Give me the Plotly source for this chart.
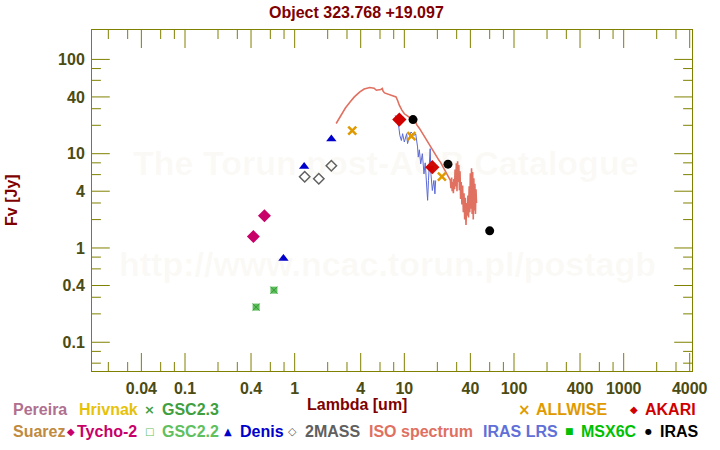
import math
import plotly.graph_objects as go

# ---------------- data ----------------
tycho_lam = [0.42, 0.53]
tycho_flux = [1.32, 2.19]

denis_lam = [0.79, 1.22, 2.16]
denis_flux = [0.775, 7.3, 14.3]

mass2_lam = [1.235, 1.66, 2.16]
mass2_flux = [5.7, 5.42, 7.45]

gsc22_lam = [0.445, 0.647]
gsc22_flux = [0.236, 0.357]
gsc23_lam = [0.445, 0.647]
gsc23_flux = [0.236, 0.357]

allwise_lam = [3.35, 11.6, 22.0]
allwise_flux = [17.6, 15.4, 5.7]

akari_lam = [9.0, 18.0]
akari_flux = [23.0, 7.2]

iras_lam = [12.0, 25.0, 60.0]
iras_flux = [23.0, 7.75, 1.52]

iso_lam = [2.39, 2.5, 2.69, 2.9, 3.2, 3.5, 3.93, 4.3, 4.84, 5.3, 5.56, 5.9, 6.1, 6.3, 6.4,
           6.6, 7.0, 7.6, 8.1, 8.4, 8.7, 9.0, 9.5, 10.0, 10.5, 11.1, 11.5, 11.9, 12.3, 12.7,
           13.0, 13.4, 13.7, 14.1, 14.4, 14.8, 15.2, 15.6, 16.0, 16.4, 16.8, 17.3, 17.8, 18.3,
           18.8, 19.3, 20.0, 20.7, 21.4, 22.2, 22.8, 23.4, 24.0, 24.6, 25.4, 26.3,
           26.6, 27.0, 27.3, 27.6, 28.0, 28.3, 28.7, 29.0, 29.4, 29.8, 30.2, 30.6, 31.0, 31.4,
           31.8, 32.2, 32.6, 33.0, 33.5, 34.0, 34.5, 35.0, 35.5, 36.0, 36.5, 37.0, 37.5, 38.0,
           38.5, 39.0, 39.5, 40.0, 40.5, 41.0, 41.5, 42.0, 42.5, 43.0, 43.5, 44.0, 44.5, 45.0, 45.5]
iso_flux = [20.9, 23.0, 26.7, 30.5, 35.4, 40.0, 45.2, 48.5, 50.4, 49.5, 47.1, 47.5, 48.0, 49.1, 46.0,
            44.1, 43.0, 41.7, 40.5, 40.0, 36.5, 32.7, 29.0, 26.5, 25.5, 24.5, 23.4, 23.0, 21.6, 21.6,
            20.2, 19.5, 18.6, 17.7, 17.0, 16.0, 15.4, 14.4, 13.9, 13.0, 12.6, 11.7, 11.2, 10.6,
            10.0, 9.6, 9.0, 8.5, 8.1, 7.5, 7.2, 6.8, 6.5, 6.1, 5.6, 5.2,
            4.3, 5.6, 4.0, 5.0, 3.8, 5.4, 4.2, 6.8, 4.5, 7.9, 4.0, 8.3, 5.0, 7.6,
            4.1, 6.5, 3.3, 5.0, 2.9, 4.6, 2.4, 3.8, 2.0, 3.4, 1.75, 3.0, 2.2, 3.6,
            2.1, 4.5, 2.4, 6.2, 2.6, 7.0, 2.3, 6.4, 2.0, 5.5, 2.5, 4.8, 2.3, 4.2, 3.0]

lrs_lam = [8.25, 8.5, 8.9, 9.1, 9.4, 9.65, 10.0, 10.5, 10.7, 11.0, 11.5, 12.3, 12.7, 13.2, 13.4,
           13.7, 14.1, 14.6, 15.1, 15.5, 16.3, 16.6, 17.2, 17.5, 18.0, 18.6, 19.0, 19.3]
lrs_flux = [25.5, 23.6, 19.2, 15.6, 13.8, 16.3, 13.3, 16.3, 12.8, 14.5, 17.0, 15.6, 16.2, 11.8, 9.2,
            11.0, 7.8, 10.0, 6.1, 8.0, 3.2, 5.2, 11.3, 6.0, 4.07, 5.2, 3.75, 5.2]

x_major = [0.04, 0.1, 0.4, 1, 4, 10, 40, 100, 400, 1000, 4000]
x_major_text = ["0.04", "0.1", "0.4", "1", "4", "10", "40", "100", "400", "1000", "4000"]
x_minor = [0.02, 0.03, 0.06, 0.08, 0.2, 0.3, 0.6, 0.8, 2, 3, 6, 8, 20, 30, 60, 80,
           200, 300, 600, 800, 2000, 3000]
y_major = [0.1, 0.4, 1, 4, 10, 40, 100]
y_major_text = ["0.1", "0.4", "1", "4", "10", "40", "100"]
y_minor = [0.06, 0.08, 0.2, 0.3, 0.6, 0.8, 2, 3, 6, 8, 20, 30, 60, 80]

# ---------------- styling ----------------
W, H = 720, 450
ML, MR, MT, MB = 92, 21, 30, 79
PW, PH = W - ML - MR, H - MT - MB
XR = [-1.848, 3.623]
YR = [-1.305, 2.312]
FONT = "Liberation Sans, Arial, sans-serif"
AXC = "#808000"
TICKC = "#4b4b12"
DARKRED = "#800000"
MAJ, MIN = 18, 9


def px(x):
    return (x - ML) / PW


def py(y):
    return (H - MB - y) / PH


fig = go.Figure()

# inside tick marks on all four sides, derived from the tick values and axis range
tx, ty = [], []
xlo, xhi = 10 ** XR[0], 10 ** XR[1]
ylo, yhi = 10 ** YR[0], 10 ** YR[1]
for vals, ln in ((x_major, MAJ), (x_minor, MIN)):
    d = ln / PH * (YR[1] - YR[0])
    for v in vals:
        tx += [v, v, None, v, v, None]
        ty += [ylo, 10 ** (YR[0] + d), None, yhi, 10 ** (YR[1] - d), None]
for vals, ln in ((y_major, MAJ), (y_minor, MIN)):
    d = ln / PW * (XR[1] - XR[0])
    for v in vals:
        tx += [xlo, 10 ** (XR[0] + d), None, xhi, 10 ** (XR[1] - d), None]
        ty += [v, v, None, v, v, None]
fig.add_trace(go.Scatter(x=tx, y=ty, mode="lines", hoverinfo="skip",
                         line=dict(color=AXC, width=1)))

fig.add_trace(go.Scatter(x=iso_lam, y=iso_flux, mode="lines",
                         line=dict(color="#e07060", width=1.6)))
fig.add_trace(go.Scatter(x=lrs_lam, y=lrs_flux, mode="lines",
                         line=dict(color="#5a6ad6", width=1)))
fig.add_trace(go.Scatter(x=gsc22_lam, y=gsc22_flux, mode="markers",
                         marker=dict(symbol="square", size=7, color="#5cbf5c")))
fig.add_trace(go.Scatter(x=gsc23_lam, y=gsc23_flux, mode="markers",
                         marker=dict(symbol="x-thin", size=7, color="#3a9a3a",
                                     line=dict(color="#3a9a3a", width=1))))
fig.add_trace(go.Scatter(x=tycho_lam, y=tycho_flux, mode="markers",
                         marker=dict(symbol="diamond", size=10, color="#c8006a")))
fig.add_trace(go.Scatter(x=denis_lam, y=denis_flux, mode="markers",
                         marker=dict(symbol="triangle-up", size=9, color="#0000cc")))
fig.add_trace(go.Scatter(x=mass2_lam, y=mass2_flux, mode="markers",
                         marker=dict(symbol="diamond-open", size=8, color="#606060",
                                     line=dict(color="#606060", width=1.5))))
fig.add_trace(go.Scatter(x=allwise_lam, y=allwise_flux, mode="markers",
                         marker=dict(symbol="x-thin", size=8, color="#e09a00",
                                     line=dict(color="#e09a00", width=2.5))))
fig.add_trace(go.Scatter(x=akari_lam, y=akari_flux, mode="markers",
                         marker=dict(symbol="diamond", size=11, color="#d00000")))
fig.add_trace(go.Scatter(x=iras_lam, y=iras_flux, mode="markers",
                         marker=dict(symbol="circle", size=9, color="#000000")))

tickfont = dict(family=FONT, size=16, color=TICKC, weight="bold")

axis_common = dict(type="log", showgrid=False, zeroline=False,
                   showline=True, linecolor=AXC, linewidth=1, mirror=True,
                   ticks="", tickmode="array", tickfont=tickfont, ticklabelstandoff=3)

fig.update_layout(
    xaxis=dict(axis_common, range=XR, tickvals=x_major, ticktext=x_major_text),
    yaxis=dict(axis_common, range=YR, tickvals=y_major, ticktext=y_major_text),
)

ann = []


def text(x, y, s, color, size=16, xanchor="left", angle=0, family=FONT, weight="bold"):
    ann.append(dict(x=px(x), y=py(y), xref="paper", yref="paper", text=s, showarrow=False,
                    xanchor=xanchor, yanchor="middle", textangle=angle,
                    font=dict(family=family, size=size, color=color, weight=weight)))


# watermark
WM = "rgba(200,160,110,0.07)"
text(389, 163, "The Torun post-AGB Catalogue", WM, size=34, xanchor="center")
text(391, 264, "http://www.ncac.torun.pl/postagb", WM, size=34, xanchor="center")

# titles
text(360, 12, "Object 323.768 +19.097", DARKRED, xanchor="center")
text(360, 405, "Lambda [um]", DARKRED, xanchor="center")
text(10, 200, "Fv [Jy]", DARKRED, xanchor="center", angle=-90)

# legend row 1
R1, R2 = 410, 431
SYM = "DejaVu Sans, sans-serif"
text(10, R1, "Pereira", "#b07090")
text(77, R1, "Hrivnak", "#e6c20a")
text(150.5, R1, "×", "#40a040", size=13, xanchor="center", family=SYM)
text(160.5, R1, "GSC2.3", "#40a040")
text(530, R1, "×", "#e09a00", size=15, xanchor="center", family=SYM)
text(539.5, R1, "ALLWISE", "#e09a00")
text(640.5, R1, "◆", "#d00000", size=10, xanchor="center", family=SYM)
text(649.5, R1, "AKARI", "#d00000")

# legend row 2
text(10, R2, "Suarez", "#c08a40")
text(70.5, R2, "◆", "#c8006a", size=10, xanchor="center", family=SYM)
text(75, R2, "Tycho-2", "#c8006a")
text(150.5, R2, "□", "#60c060", size=10, xanchor="center", family=SYM)
text(160.5, R2, "GSC2.2", "#60c060")
text(230, R2, "▲", "#0000cc", size=10, xanchor="center", family=SYM)
text(240, R2, "Denis", "#0000cc")
text(295, R2, "◇", "#606060", size=11, xanchor="center", family=SYM)
text(305.5, R2, "2MASS", "#606060")
text(370, R2, "ISO spectrum", "#e07060")
text(485.5, R2, "IRAS LRS", "#6070d8")
text(575.3, R2, "■", "#00c000", size=9, xanchor="center", family=SYM)
text(585, R2, "MSX6C", "#00c000")
text(654.7, R2, "●", "#000000", size=8, xanchor="center", family=SYM)
text(665, R2, "IRAS", "#000000")

fig.update_layout(width=W, height=H, margin=dict(l=ML, r=MR, t=MT, b=MB),
                  paper_bgcolor="white", plot_bgcolor="white", showlegend=False,
                  hovermode=False, annotations=ann)

fig.write_html("out.html", config={"displayModeBar": False},
               post_script="document.body.style.margin='0';")
